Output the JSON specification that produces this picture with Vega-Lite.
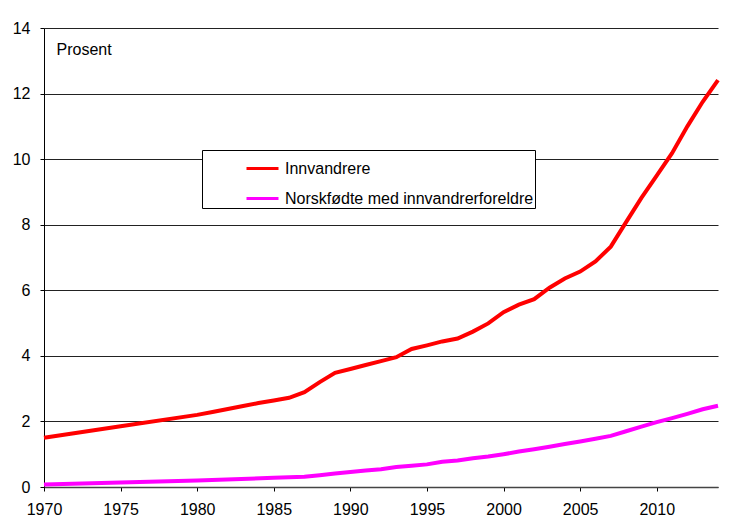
{
  "$schema": "https://vega.github.io/schema/vega-lite/v6.json",
  "autosize": "none",
  "width": 674,
  "height": 459,
  "padding": {"left": 44, "top": 28, "right": 15, "bottom": 36},
  "background": "white",
  "config": {
    "font": "Liberation Sans",
    "view": {"stroke": null},
    "axis": {"labelFont": "Liberation Sans", "labelFontSize": 16, "labelColor": "black", "titleFont": "Liberation Sans"}
  },
  "datasets": {
    "d": [
      {"year": 1970, "group": "Innvandrere", "value": 1.5},
      {"year": 1975, "group": "Innvandrere", "value": 1.85},
      {"year": 1980, "group": "Innvandrere", "value": 2.2},
      {"year": 1981, "group": "Innvandrere", "value": 2.29},
      {"year": 1982, "group": "Innvandrere", "value": 2.38},
      {"year": 1983, "group": "Innvandrere", "value": 2.47},
      {"year": 1984, "group": "Innvandrere", "value": 2.56},
      {"year": 1985, "group": "Innvandrere", "value": 2.64},
      {"year": 1986, "group": "Innvandrere", "value": 2.72},
      {"year": 1987, "group": "Innvandrere", "value": 2.89},
      {"year": 1988, "group": "Innvandrere", "value": 3.2},
      {"year": 1989, "group": "Innvandrere", "value": 3.48},
      {"year": 1990, "group": "Innvandrere", "value": 3.6},
      {"year": 1991, "group": "Innvandrere", "value": 3.72},
      {"year": 1992, "group": "Innvandrere", "value": 3.84},
      {"year": 1993, "group": "Innvandrere", "value": 3.96},
      {"year": 1994, "group": "Innvandrere", "value": 4.21},
      {"year": 1995, "group": "Innvandrere", "value": 4.32},
      {"year": 1996, "group": "Innvandrere", "value": 4.44},
      {"year": 1997, "group": "Innvandrere", "value": 4.53},
      {"year": 1998, "group": "Innvandrere", "value": 4.74},
      {"year": 1999, "group": "Innvandrere", "value": 4.99},
      {"year": 2000, "group": "Innvandrere", "value": 5.33},
      {"year": 2001, "group": "Innvandrere", "value": 5.56},
      {"year": 2002, "group": "Innvandrere", "value": 5.73},
      {"year": 2003, "group": "Innvandrere", "value": 6.08},
      {"year": 2004, "group": "Innvandrere", "value": 6.36},
      {"year": 2005, "group": "Innvandrere", "value": 6.57},
      {"year": 2006, "group": "Innvandrere", "value": 6.88},
      {"year": 2007, "group": "Innvandrere", "value": 7.33},
      {"year": 2008, "group": "Innvandrere", "value": 8.08},
      {"year": 2009, "group": "Innvandrere", "value": 8.82},
      {"year": 2010, "group": "Innvandrere", "value": 9.5},
      {"year": 2011, "group": "Innvandrere", "value": 10.18},
      {"year": 2012, "group": "Innvandrere", "value": 11.0},
      {"year": 2013, "group": "Innvandrere", "value": 11.75},
      {"year": 2014, "group": "Innvandrere", "value": 12.41},
      {"year": 1970, "group": "Norskfødte med innvandrerforeldre", "value": 0.08},
      {"year": 1975, "group": "Norskfødte med innvandrerforeldre", "value": 0.14},
      {"year": 1980, "group": "Norskfødte med innvandrerforeldre", "value": 0.2},
      {"year": 1985, "group": "Norskfødte med innvandrerforeldre", "value": 0.28},
      {"year": 1986, "group": "Norskfødte med innvandrerforeldre", "value": 0.3},
      {"year": 1987, "group": "Norskfødte med innvandrerforeldre", "value": 0.31},
      {"year": 1988, "group": "Norskfødte med innvandrerforeldre", "value": 0.36},
      {"year": 1989, "group": "Norskfødte med innvandrerforeldre", "value": 0.41},
      {"year": 1990, "group": "Norskfødte med innvandrerforeldre", "value": 0.46},
      {"year": 1991, "group": "Norskfødte med innvandrerforeldre", "value": 0.5},
      {"year": 1992, "group": "Norskfødte med innvandrerforeldre", "value": 0.54},
      {"year": 1993, "group": "Norskfødte med innvandrerforeldre", "value": 0.61},
      {"year": 1994, "group": "Norskfødte med innvandrerforeldre", "value": 0.65},
      {"year": 1995, "group": "Norskfødte med innvandrerforeldre", "value": 0.69},
      {"year": 1996, "group": "Norskfødte med innvandrerforeldre", "value": 0.77},
      {"year": 1997, "group": "Norskfødte med innvandrerforeldre", "value": 0.81},
      {"year": 1998, "group": "Norskfødte med innvandrerforeldre", "value": 0.88},
      {"year": 1999, "group": "Norskfødte med innvandrerforeldre", "value": 0.93},
      {"year": 2000, "group": "Norskfødte med innvandrerforeldre", "value": 1.0},
      {"year": 2001, "group": "Norskfødte med innvandrerforeldre", "value": 1.08},
      {"year": 2002, "group": "Norskfødte med innvandrerforeldre", "value": 1.15},
      {"year": 2003, "group": "Norskfødte med innvandrerforeldre", "value": 1.23},
      {"year": 2004, "group": "Norskfødte med innvandrerforeldre", "value": 1.31},
      {"year": 2005, "group": "Norskfødte med innvandrerforeldre", "value": 1.39},
      {"year": 2006, "group": "Norskfødte med innvandrerforeldre", "value": 1.47},
      {"year": 2007, "group": "Norskfødte med innvandrerforeldre", "value": 1.56},
      {"year": 2008, "group": "Norskfødte med innvandrerforeldre", "value": 1.7},
      {"year": 2009, "group": "Norskfødte med innvandrerforeldre", "value": 1.84},
      {"year": 2010, "group": "Norskfødte med innvandrerforeldre", "value": 1.98},
      {"year": 2011, "group": "Norskfødte med innvandrerforeldre", "value": 2.1},
      {"year": 2012, "group": "Norskfødte med innvandrerforeldre", "value": 2.23},
      {"year": 2013, "group": "Norskfødte med innvandrerforeldre", "value": 2.37},
      {"year": 2014, "group": "Norskfødte med innvandrerforeldre", "value": 2.48}
    ]
  },
  "data": {"name": "d"},
  "mark": {"type": "line", "strokeWidth": 4},
  "encoding": {
    "x": {
      "field": "year",
      "type": "quantitative",
      "scale": {"domain": [1970, 2014], "nice": false, "zero": false},
      "axis": {
        "title": null,
        "values": [1970, 1975, 1980, 1985, 1990, 1995, 2000, 2005, 2010],
        "format": "d",
        "grid": false,
        "domainColor": "#444444",
        "domainWidth": 1.5,
        "tickColor": "black",
        "tickSize": 4,
        "labelPadding": 10,
        "labelFlush": false
      }
    },
    "y": {
      "field": "value",
      "type": "quantitative",
      "scale": {"domain": [0, 14], "nice": false},
      "axis": {
        "title": "Prosent",
        "titleAngle": 0,
        "titleX": 12,
        "titleY": 26,
        "titleAlign": "left",
        "titleBaseline": "alphabetic",
        "titleFontSize": 16,
        "titleFontWeight": "normal",
        "titleColor": "black",
        "values": [0, 2, 4, 6, 8, 10, 12, 14],
        "format": "d",
        "grid": true,
        "gridColor": "#222222",
        "gridWidth": 1,
        "gridOpacity": 1,
        "domainColor": "black",
        "tickColor": "black",
        "tickSize": 4,
        "labelPadding": 10
      }
    },
    "color": {
      "field": "group",
      "type": "nominal",
      "scale": {
        "domain": ["Innvandrere", "Norskfødte med innvandrerforeldre"],
        "range": ["#ff0000", "#ff00ff"]
      },
      "legend": {
        "title": null,
        "orient": "none",
        "legendX": 158,
        "legendY": 122,
        "strokeColor": "black",
        "fillColor": "white",
        "padding": 1,
        "symbolType": "stroke",
        "symbolSize": 1024,
        "symbolStrokeWidth": 3,
        "symbolOffset": 42,
        "labelOffset": 5,
        "labelFontSize": 16,
        "labelFont": "Liberation Sans",
        "labelColor": "black",
        "labelLimit": 400,
        "rowPadding": 4
      }
    }
  }
}
